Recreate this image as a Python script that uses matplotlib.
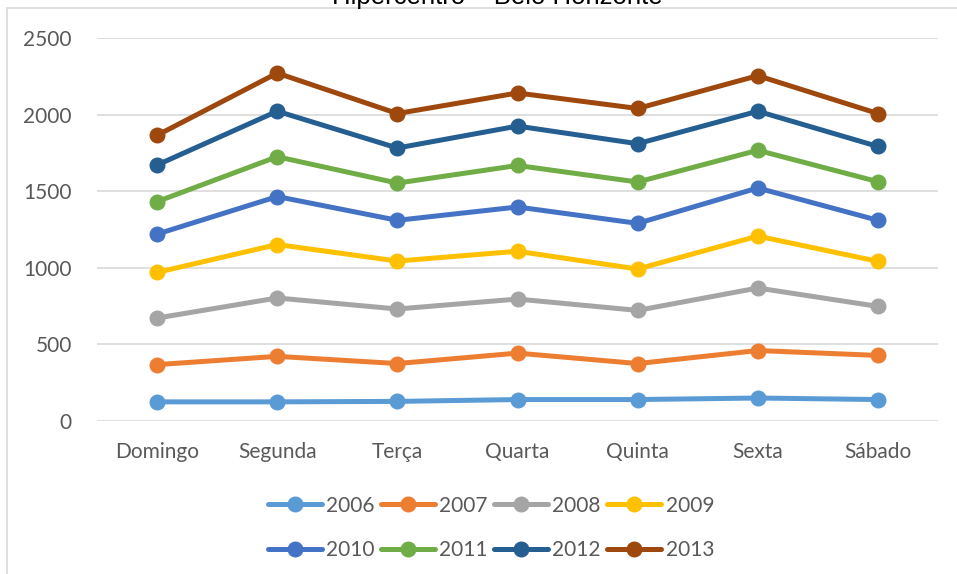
import numpy as np
import matplotlib
matplotlib.use("Agg")
import matplotlib.pyplot as plt
from matplotlib.patches import Rectangle

# %% data
dias = ['Domingo', 'Segunda', 'Terça', 'Quarta', 'Quinta', 'Sexta', 'Sábado']
anos = ['2006', '2007', '2008', '2009', '2010', '2011', '2012', '2013']

v2006 = [125, 125, 128, 140, 140, 150, 140]
v2007 = [368, 422, 375, 443, 375, 460, 428]
v2008 = [672, 803, 731, 796, 722, 868, 748]
v2009 = [970, 1152, 1044, 1108, 992, 1207, 1042]
v2010 = [1220, 1465, 1310, 1397, 1290, 1521, 1310]
v2011 = [1432, 1725, 1553, 1668, 1560, 1767, 1562]
v2012 = [1671, 2022, 1782, 1925, 1810, 2022, 1792]
v2013 = [1865, 2271, 2007, 2141, 2040, 2254, 2007]
series = [v2006, v2007, v2008, v2009, v2010, v2011, v2012, v2013]

cores = ['#5B9BD5', '#ED7D31', '#A5A5A5', '#FFC000',
         '#4472C4', '#70AD47', '#255E91', '#9E480E']

# %% plot
W, H = 957, 574
fig = plt.figure(figsize=(W / 100, H / 100), dpi=100)
plt.rcParams['font.family'] = ['Lato', 'DejaVu Sans']

ax = fig.add_axes([97 / W, 1 - 421 / H, (938 - 97) / W, (421 - 38) / H])
x = np.arange(len(dias))
linhas = []
for vals, ano, cor in zip(series, anos, cores):
    l, = ax.plot(x, vals, color=cor, lw=3.6, marker='o', ms=10.5, label=ano,
                 solid_capstyle='round', solid_joinstyle='round')
    linhas.append(l)

ax.set_xlim(-0.5, len(dias) - 0.5)
ax.set_ylim(0, 2500)
ax.set_yticks(np.arange(0, 2501, 500))
ax.set_xticks(x)
ax.set_xticklabels(dias)
ax.grid(axis='y', color='#D9D9D9', lw=1.2)
ax.set_axisbelow(True)
for s in ax.spines.values():
    s.set_visible(False)
ax.tick_params(axis='both', length=0, colors='#595959', labelsize=15)
ax.tick_params(axis='y', pad=18)
ax.tick_params(axis='x', pad=15)

# chart border (only top and left visible in the crop)
fig.patches.append(Rectangle((7 / W, -0.1), 1.2, 1 - 8 / H + 0.1,
                             transform=fig.transFigure, fill=False,
                             edgecolor='#D9D9D9', lw=1.2))

# title, cut off at the top like the reference
fig.text(497 / W, 1 - 4 / H, 'Hipercentro – Belo Horizonte', ha='center',
         va='baseline', fontsize=18.5, family='Liberation Sans', color='#000000')

# legend filled row by row: 2006-2009 on top, 2010-2013 below
ordem = [0, 4, 1, 5, 2, 6, 3, 7]
fig.legend([linhas[i] for i in ordem], [anos[i] for i in ordem],
           loc='center', bbox_to_anchor=(491 / W, 1 - 528 / H), ncol=4,
           frameon=False, fontsize=15, handlelength=2.6, handletextpad=0.2,
           columnspacing=0.3, labelspacing=1.2, labelcolor='#595959')

fig.savefig('out.png', dpi=100)
